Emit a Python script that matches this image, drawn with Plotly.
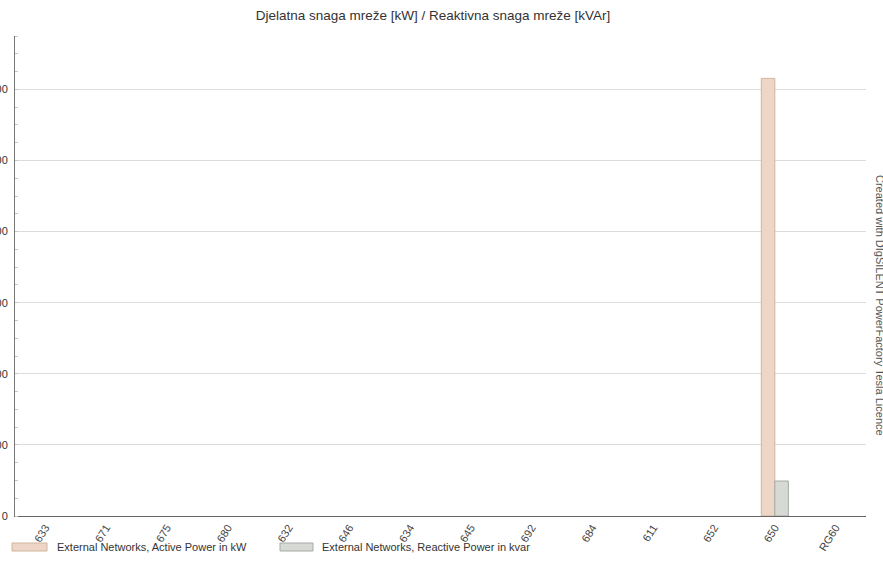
import plotly.graph_objects as go

categories = ["633", "671", "675", "680", "632", "646", "634", "645", "692",
              "684", "611", "652", "650", "RG60"]
active_kw = [0, 0, 0, 0, 0, 0, 0, 0, 0, 0, 0, 0, 3077, 0]
reactive_kvar = [0, 0, 0, 0, 0, 0, 0, 0, 0, 0, 0, 0, 246, 0]
y_ticks = [0, 500, 1000, 1500, 2000, 2500, 3000]

series_names = ["External Networks, Active Power in kW",
                "External Networks, Reactive Power in kvar"]
fill_colors = ["rgb(238,214,198)", "rgb(214,217,212)"]
line_colors = ["rgb(210,180,160)", "rgb(165,170,165)"]

W, H = 883, 574
L, R, T, B = 15, 17, 36, 58
pw, ph = W - L - R, H - T - B


def px(x):
    return (x - L) / pw


def py(y):
    return (H - B - y) / ph


fig = go.Figure()
for name, vals, fc, lc in zip(series_names, [active_kw, reactive_kvar], fill_colors, line_colors):
    fig.add_trace(go.Bar(x=categories, y=vals, name=name,
                         marker=dict(color=fc,
                                     line=dict(color=lc, width=[1 if v else 0 for v in vals])),
                         showlegend=False, hoverinfo="skip"))

font = "Liberation Sans, Arial, sans-serif"

fig.update_layout(
    width=W, height=H,
    margin=dict(l=L, r=R, t=T, b=B, autoexpand=False),
    paper_bgcolor="white", plot_bgcolor="white",
    barmode="group", bargap=0.555, bargroupgap=0,
    font=dict(family=font, size=11, color="#333"),
    title=dict(text="Djelatna snaga mreže [kW] / Reaktivna snaga mreže [kVAr]",
               x=433 / W, xanchor="center", y=1 - 15 / H, yanchor="middle",
               font=dict(family=font, size=13.5, color="#333")),
    xaxis=dict(type="category", tickangle=-58, showgrid=False,
               showline=True, linecolor="#666", linewidth=1,
               ticks="", tickfont=dict(size=11, color="#444"), automargin=False),
    yaxis=dict(range=[0, 3375], tickvals=y_ticks, ticktext=[str(v) for v in y_ticks],
               showgrid=True, gridcolor="#dcdcdc", gridwidth=1,
               showline=True, linecolor="#777", linewidth=1,
               zeroline=False, ticks="", ticklabelstandoff=4,
               tickfont=dict(size=11, color="#333"), automargin=False,
               minor=dict(dtick=125, tick0=0, ticks="inside", ticklen=3,
                          tickcolor="#c8c8c8", showgrid=False)),
)

# legend (manual, wide swatches as in reference)
legend_items = [(12, 47, 55), (280, 313, 320)]
for (x0, x1, tx), name, fc, lc in zip(legend_items, series_names, fill_colors, line_colors):
    fig.add_shape(type="rect", xref="paper", yref="paper",
                  x0=px(x0), x1=px(x1), y0=py(551), y1=py(543),
                  fillcolor=fc, line=dict(color=lc, width=1))
    fig.add_annotation(xref="paper", yref="paper", x=px(tx), y=py(547),
                       xanchor="left", yanchor="middle", showarrow=False,
                       text=name, font=dict(family=font, size=11, color="#333"))

# vertical credit text at right edge
fig.add_annotation(xref="paper", yref="paper", x=px(880), y=py(305),
                   xanchor="center", yanchor="middle", showarrow=False, textangle=90,
                   text="Created with DIgSILENT PowerFactory Tesla Licence",
                   font=dict(family=font, size=11, color="#555"))

fig.write_html("out.html", config={"displayModeBar": False},
               post_script="document.body.style.margin='0';document.documentElement.style.margin='0';document.body.style.overflow='hidden';")
